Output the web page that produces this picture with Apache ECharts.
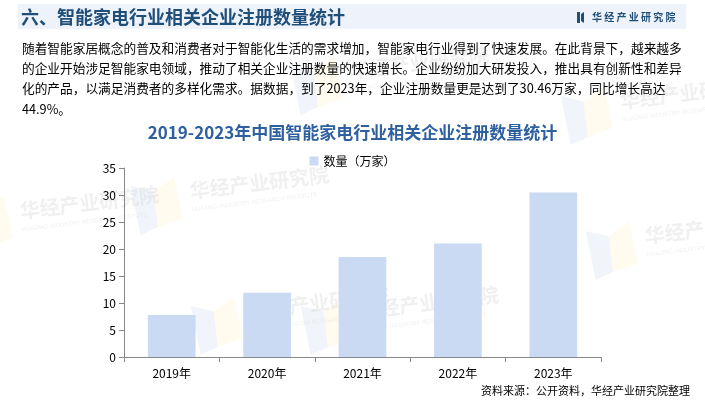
<!DOCTYPE html>
<html>
<head>
<meta charset="utf-8">
<script src="https://cdn.jsdelivr.net/npm/echarts@6/dist/echarts.min.js"></script>
<style>html,body{margin:0;padding:0;background:#fff;}#c{width:705px;height:400px;}</style>
</head>
<body>
<div id="c"></div>
<script>
const categories = ['2019年', '2020年', '2021年', '2022年', '2023年'];
const values = [7.8, 11.9, 18.5, 21.02, 30.46];
const seriesName = '数量（万家）';
const yTicks = { min: 0, max: 35, interval: 5 };
const headerTitle = '六、智能家电行业相关企业注册数量统计';
const brand = '华经产业研究院';
const paragraph = [
  '随着智能家居概念的普及和消费者对于智能化生活的需求增加，智能家电行业得到了快速发展。在此背景下，越来越多',
  '的企业开始涉足智能家电领域，推动了相关企业注册数量的快速增长。企业纷纷加大研发投入，推出具有创新性和差异',
  '化的产品，以满足消费者的多样化需求。据数据，到了2023年，企业注册数量更是达到了30.46万家，同比增长高达',
  '44.9%。'
];
const chartTitle = '2019-2023年中国智能家电行业相关企业注册数量统计';
const source = '资料来源：公开资料，华经产业研究院整理';

const FONT = '"Microsoft YaHei","Noto Sans CJK SC",sans-serif';
const chart = echarts.init(document.getElementById('c'), null, { renderer: 'canvas' });

const wm = (x, y) => ({
  type: 'group', x: x, y: y, rotation: 0.12, silent: true, z: 0,
  children: [
    { type: 'polygon', shape: { points: [[0, 6], [22, 14], [22, 50], [4, 56]] }, style: { fill: 'rgba(200,215,240,0.25)' } },
    { type: 'polygon', shape: { points: [[22, 14], [44, 2], [48, 44], [22, 50]] }, style: { fill: 'rgba(255,240,190,0.25)' } },
    { type: 'text', x: 58, y: 8, style: { text: '华经产业研究院', font: 'bold 20px ' + FONT, fill: 'rgba(200,200,205,0.28)' } },
    { type: 'text', x: 58, y: 34, style: { text: 'HUAJING INDUSTRY RESEARCH INSTITUTE', font: '6px sans-serif', fill: 'rgba(200,200,205,0.28)' } }
  ]
});

const graphics = [
  { type: 'rect', shape: { x: 18, y: 4, width: 668, height: 25 }, style: { fill: '#eef3fb' }, z: 1 },
  { type: 'text', x: 21, y: 17, style: { text: headerTitle, font: 'bold 18px ' + FONT, fill: '#1f4e79', verticalAlign: 'middle' }, z: 2 },
  { type: 'rect', shape: { x: 577, y: 12, width: 3, height: 11 }, style: { fill: '#1f4e79' }, z: 2 },
  { type: 'polygon', shape: { points: [[581, 14], [584, 12], [584, 23], [581, 21]] }, style: { fill: '#1f4e79' }, z: 2 },
  { type: 'text', x: 592, y: 17, style: { text: brand.split('').join(' '), font: 'bold 10px ' + FONT, fill: '#1f4e79', verticalAlign: 'middle' }, z: 2 },
  wm(130, 180), wm(-40, 200), wm(300, 300), wm(585, 225), wm(190, 300), wm(560, 90), wm(290, 60)
];
paragraph.forEach((line, i) => {
  graphics.push({ type: 'text', x: 22, y: 48 + i * 20.3, style: { text: line, font: '12.7px ' + FONT, fill: '#000', verticalAlign: 'middle' }, z: 2 });
});
graphics.push({ type: 'text', x: 690, y: 391, style: { text: source, font: '11px ' + FONT, fill: '#000', align: 'right', verticalAlign: 'middle' }, z: 2 });

chart.setOption({
  animation: false,
  textStyle: { fontFamily: FONT },
  title: {
    text: chartTitle, left: 'center', top: 119,
    textStyle: { fontSize: 17, fontWeight: 'bold', color: '#2e5f9e', fontFamily: FONT }
  },
  legend: {
    data: [seriesName], top: 150, left: 'center', itemWidth: 9, itemHeight: 9, itemGap: 6,
    icon: 'rect', textStyle: { fontSize: 12, color: '#000', fontFamily: FONT }
  },
  grid: { left: 124, right: 104, top: 168, bottom: 43, containLabel: false },
  xAxis: {
    type: 'category', data: categories,
    axisLine: { lineStyle: { color: '#888' } },
    axisTick: { show: true, alignWithLabel: false, length: 5, lineStyle: { color: '#888' } },
    axisLabel: { color: '#000', fontSize: 12, margin: 10 }
  },
  yAxis: {
    type: 'value', min: yTicks.min, max: yTicks.max, interval: yTicks.interval,
    axisLine: { show: true, lineStyle: { color: '#888' } },
    axisTick: { show: true, length: 5, lineStyle: { color: '#888' } },
    splitLine: { show: false },
    axisLabel: { color: '#000', fontSize: 12, margin: 8 }
  },
  series: [{
    name: seriesName, type: 'bar', data: values, barWidth: '50%',
    itemStyle: { color: '#c9daf2' }, z: 3
  }],
  graphic: graphics
});
</script>
</body>
</html>
